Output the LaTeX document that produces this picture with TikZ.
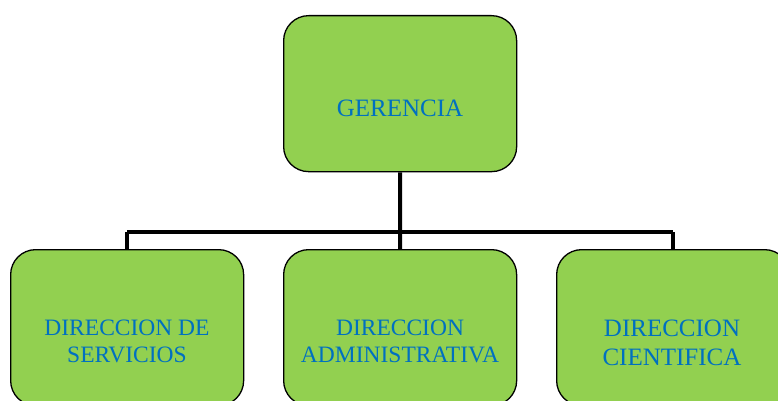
\documentclass[tikz,border=0pt]{standalone}
\usepackage{fontspec}
\setmainfont{Liberation Serif}
\definecolor{boxgreen}{HTML}{92D050}
\definecolor{txtblue}{HTML}{0070C0}
\tikzset{
  orgbox/.style={draw=black, line width=1.3pt, fill=boxgreen, rounded corners=25pt,
    minimum width=233pt, minimum height=156pt, inner sep=0pt, anchor=north west},
  orgtext/.style={text=txtblue, font=\fontsize{23.5}{27}\selectfont, align=center, inner sep=0pt},
  conn/.style={line width=4pt, draw=black}
}
\begin{document}
\begin{tikzpicture}[x=1pt, y=-1pt]
\useasboundingbox (0,0) rectangle (778,401);
\clip (0,0) rectangle (778,401);
\node[orgbox] (top) at (283,15) {};
\node[orgbox] (left) at (10,249) {};
\node[orgbox] (mid) at (283,249) {};
\node[orgbox] (right) at (556,249) {};
\coordinate (jt) at (400,232);
\coordinate (jl) at (127,232);
\coordinate (jr) at (673,232);
\draw[conn] (top.south) -- (jt);
\draw[conn] (jl) -- (jr);
\draw[conn] (jl) -- (jl |- left.north);
\draw[conn] (jt) -- (mid.north);
\draw[conn] (jr) -- (jr |- right.north);
\node[orgtext, anchor=base, font=\fontsize{25}{28}\selectfont] (ttop) at (400,117) {GERENCIA};
\node[orgtext, anchor=base] (tleft) at (127,362) {DIRECCION DE\\SERVICIOS};
\node[orgtext, anchor=base] (tmid) at (400,362) {DIRECCION\\ADMINISTRATIVA};
\node[orgtext, anchor=base, font=\fontsize{25}{29}\selectfont] (tright) at (672,365) {DIRECCION\\CIENTIFICA};
\end{tikzpicture}
\end{document}
